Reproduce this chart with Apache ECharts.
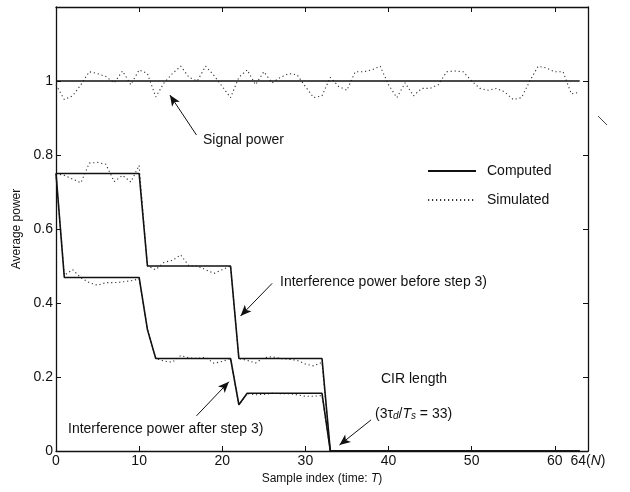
<!DOCTYPE html>
<html>
<head>
<meta charset="utf-8">
<script src="https://cdn.jsdelivr.net/npm/echarts@6/dist/echarts.min.js"></script>
<style>html,body{margin:0;padding:0;background:#fff}#c{width:630px;height:492px}</style>
</head>
<body>
<div id="c"></div>
<script>
var sampleIndex = [0,1,2,3,4,5,6,7,8,9,10,11,12,13,14,15,16,17,18,19,20,21,22,23,24,25,26,27,28,29,30,31,32,33,34,35,36,37,38,39,40,41,42,43,44,45,46,47,48,49,50,51,52,53,54,55,56,57,58,59,60,61,62,63];

var signalComputed = [1,1,1,1,1,1,1,1,1,1,1,1,1,1,1,1,1,1,1,1,1,1,1,1,1,1,1,1,1,1,1,1,1,1,1,1,1,1,1,1,1,1,1,1,1,1,1,1,1,1,1,1,1,1,1,1,1,1,1,1,1,1,1,1];
var beforeComputed = [0.75,0.75,0.75,0.75,0.75,0.75,0.75,0.75,0.75,0.75,0.75,
  0.5,0.5,0.5,0.5,0.5,0.5,0.5,0.5,0.5,0.5,0.5,
  0.25,0.25,0.25,0.25,0.25,0.25,0.25,0.25,0.25,0.25,0.25,
  0,0,0,0,0,0,0,0,0,0,0,0,0,0,0,0,0,0,0,0,0,0,0,0,0,0,0,0,0,0,0];
var afterComputed = [0.75,0.469,0.469,0.469,0.469,0.469,0.469,0.469,0.469,0.469,0.469,
  0.328,0.25,0.25,0.25,0.25,0.25,0.25,0.25,0.25,0.25,0.25,
  0.125,0.156,0.156,0.156,0.156,0.156,0.156,0.156,0.156,0.156,0.156,
  0,0,0,0,0,0,0,0,0,0,0,0,0,0,0,0,0,0,0,0,0,0,0,0,0,0,0,0,0,0,0];

var signalSimulated = [0.99,0.95,0.96,0.99,1.025,1.02,1.012,0.995,1.027,0.99,
  1.03,1.02,0.957,0.995,1.02,1.04,1.01,1.0,1.04,1.015,
  0.985,0.955,1.01,1.03,0.99,1.025,0.995,1.01,1.02,1.017,
  0.985,0.955,0.96,1.01,0.985,0.975,1.025,1.025,1.03,1.04,
  0.99,0.955,0.995,0.96,0.98,0.98,0.99,1.025,1.027,1.025,
  1.0,0.98,0.975,0.98,0.97,0.95,0.955,1.0,1.04,1.035,
  1.025,1.025,0.965,0.97];
var beforeSimulated = [0.75,0.745,0.735,0.725,0.778,0.78,0.775,0.728,0.745,0.727,0.772,
  0.5,0.49,0.51,0.515,0.53,0.5,0.5,0.49,0.48,0.49,0.5,
  0.25,0.245,0.238,0.252,0.255,0.25,0.248,0.245,0.235,0.23,0.24,
  0,0,0,0,0,0,0,0,0,0,0,0,0,0,0,0,0,0,0,0,0,0,0,0,0,0,0,0,0,0,0];
var afterSimulated = [0.75,0.475,0.49,0.468,0.455,0.448,0.455,0.455,0.457,0.46,0.465,
  0.33,0.25,0.243,0.24,0.258,0.252,0.25,0.253,0.237,0.242,0.25,
  0.125,0.155,0.152,0.153,0.156,0.155,0.155,0.152,0.148,0.148,0.15,
  0,0,0,0,0,0,0,0,0,0,0,0,0,0,0,0,0,0,0,0,0,0,0,0,0,0,0,0,0,0,0];

var legendNames = ['Computed', 'Simulated'];

var xMin = 0, xMax = 64, xStep = 10;
var yMin = 0, yMax = 1.2, yStep = 0.2;

// arrows: [tailX, tailY, headX, headY] in data units
var arrowSignal = [16.9, 0.854, 13.7, 0.962];
var arrowBefore = [26.0, 0.453, 22.2, 0.365];
var arrowAfter  = [16.9, 0.095, 20.8, 0.187];
var arrowCIR    = [37.9, 0.084, 34.1, 0.016];

function pairs(ys){ return sampleIndex.map(function(x,i){ return [x, ys[i]]; }); }

var FONT = '"Liberation Sans", Arial, Helvetica, sans-serif';
var INK = '#111';

function arrow(a){
  return [{coord:[a[0],a[1]], symbol:'none'},{coord:[a[2],a[3]], symbol:'arrow', symbolSize:[7,11]}];
}

var computedStyle = {color: INK, width: 1.6, type: 'solid'};
var simStyle = {color: '#333', width: 1.1, type: [1.2, 2.8]};

function lineSeries(name, ys, style, extra){
  var s = {
    name: name, type: 'line', data: pairs(ys), symbol: 'none', showSymbol: false,
    lineStyle: style, itemStyle: {color: style.color}, animation: false, silent: true, z: name === 'Computed' ? 3 : 2
  };
  if (extra) for (var k in extra) s[k] = extra[k];
  return s;
}

var chart = echarts.init(document.getElementById('c'), null, {renderer: 'canvas'});
function axisCommon(){
  return {
    axisLine: {show: true, onZero: false, lineStyle: {color: INK, width: 1.3}},
    axisTick: {show: true, inside: true, length: 5, lineStyle: {color: INK, width: 1}},
    splitLine: {show: false}
  };
}
chart.setOption({
  animation: false,
  backgroundColor: '#fff',
  textStyle: {fontFamily: FONT, color: INK},
  grid: {left: 56, right: 42, top: 7, bottom: 41, containLabel: false},
  legend: {
    show: true, padding: 0,
    orient: 'vertical', left: 427, top: 164, itemWidth: 48, itemHeight: 14, itemGap: 15,
    data: legendNames,
    itemStyle: {opacity: 0},
    formatter: function(n){ return '{t|' + n + '}'; },
    textStyle: {fontSize: 14, color: INK, fontFamily: FONT, rich: {t: {fontSize: 14, fontFamily: FONT, color: INK, padding: [0,0,0,6]}}},
    selectedMode: false
  },
  xAxis: [
    Object.assign(axisCommon(), {
      type: 'value', min: xMin, max: xMax, interval: xStep, position: 'bottom',
      name: 'Sample index (time: {i|T})', nameLocation: 'middle', nameGap: 15,
      nameTextStyle: {fontSize: 12, color: INK, fontFamily: FONT, rich: {i: {fontStyle: 'italic', fontSize: 12, fontFamily: FONT}}},
      axisLabel: {
        fontSize: 14, color: INK, margin: 3, fontFamily: FONT,
        formatter: function(v){ return v === 64 ? '64({i|N})' : String(v); },
        rich: {i: {fontStyle: 'italic', fontSize: 14, fontFamily: FONT}}
      }
    }),
    Object.assign(axisCommon(), {
      type: 'value', min: xMin, max: xMax, interval: xStep, position: 'top',
      axisLabel: {show: false}
    })
  ],
  yAxis: [
    Object.assign(axisCommon(), {
      type: 'value', min: yMin, max: yMax, interval: yStep, position: 'left',
      name: 'Average power', nameLocation: 'middle', nameGap: 18, nameRotate: 90,
      nameTextStyle: {fontSize: 12, color: INK, fontFamily: FONT},
      axisLabel: {
        fontSize: 14, color: INK, margin: 3, fontFamily: FONT,
        formatter: function(v){ var r = Number(v.toFixed(1)); return r >= 1.2 ? '' : String(r); }
      }
    }),
    Object.assign(axisCommon(), {
      type: 'value', min: yMin, max: yMax, interval: yStep, position: 'right',
      axisLabel: {show: false}
    })
  ],
  series: [
    lineSeries('Computed', signalComputed, computedStyle, {
      markLine: {
        silent: true, animation: false, label: {show: false},
        lineStyle: {color: INK, width: 1, type: 'solid'},
        data: [arrow(arrowSignal), arrow(arrowBefore), arrow(arrowAfter), arrow(arrowCIR)]
      }
    }),
    lineSeries('Computed', beforeComputed, computedStyle),
    lineSeries('Computed', afterComputed, computedStyle),
    lineSeries('Simulated', signalSimulated, simStyle),
    lineSeries('Simulated', beforeSimulated, simStyle),
    lineSeries('Simulated', afterSimulated, simStyle)
  ],
  graphic: [
    {type: 'text', left: 203, top: 133, silent: true, style: {text: 'Signal power', font: '14px ' + FONT, fill: INK}},
    {type: 'text', left: 280, top: 275, silent: true, style: {text: 'Interference power before step 3)', font: '14px ' + FONT, fill: INK}},
    {type: 'text', left: 68, top: 422, silent: true, style: {text: 'Interference power after step 3)', font: '14px ' + FONT, fill: INK}},
    {type: 'text', left: 381, top: 372, silent: true, style: {text: 'CIR length', font: '14px ' + FONT, fill: INK}},
    {type: 'text', left: 375, top: 402, silent: true, style: {
      text: '(3τ{sub|d}/{it|T}{sub|s} = 33)',
      font: '14px ' + FONT, fill: INK,
      rich: {
        sub: {fontSize: 10, fontStyle: 'italic', fontFamily: FONT, fill: INK, verticalAlign: 'bottom', lineHeight: 10, padding: [9,0,0,0]},
        it: {fontSize: 14, fontStyle: 'italic', fontFamily: FONT, fill: INK}
      }
    }},
    {type: 'line', silent: true, shape: {x1: 598, y1: 116, x2: 607, y2: 125}, style: {stroke: '#444', lineWidth: 1}}
  ]
});
</script>
</body>
</html>
